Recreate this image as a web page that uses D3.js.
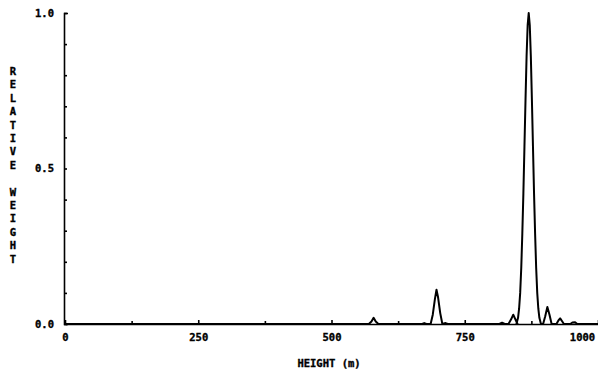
<!DOCTYPE html>
<html>
<head>
<meta charset="utf-8">
<script src="https://cdn.jsdelivr.net/npm/d3@7"></script>
<style>
  html, body { margin: 0; padding: 0; background: #fff; }
  svg { display: block; }
  text { font-family: "DejaVu Sans Mono", "Liberation Mono", monospace; font-weight: bold; fill: #000; stroke: #000; stroke-width: 0.35; }
</style>
</head>
<body>
<svg id="chart" width="598" height="369"></svg>
<script>
// Height samples (m) and the relative weight at each
const heights = [
  0, 570, 575, 579, 583, 588,
  670, 674, 678, 686, 690, 694, 697, 700, 704, 708, 714, 718,
  815, 820, 825, 832, 837, 841, 845, 849,
  847, 850, 852, 854, 856, 858, 860, 862, 864, 866, 868, 870,
  872, 874, 876, 878, 880, 882, 884, 886, 888, 890, 893,
  897, 901, 905, 909, 913,
  922, 926, 929, 933, 936,
  948, 952, 957, 961, 1000
];
const weights = [
  0, 0, 0.008, 0.02, 0.008, 0,
  0, 0.003, 0, 0, 0.03, 0.08, 0.11, 0.085, 0.035, 0, 0.003, 0,
  0, 0.004, 0, 0, 0.015, 0.03, 0.015, 0,
  0, 0.02, 0.05, 0.10, 0.18, 0.29, 0.42, 0.57, 0.72, 0.86, 0.96, 1.0,
  0.96, 0.86, 0.72, 0.57, 0.42, 0.29, 0.18, 0.10, 0.05, 0.02, 0,
  0, 0.025, 0.055, 0.03, 0,
  0, 0.012, 0.018, 0.008, 0,
  0, 0.005, 0.006, 0, 0
];

const xMajor = [0, 250, 500, 750, 1000];
const xMinor = [125, 375, 625, 875];
const yMajor = [0, 0.5, 1.0];
const yMinor = [0.1, 0.2, 0.3, 0.4, 0.6, 0.7, 0.8, 0.9];
const yTitle = "RELATIVE WEIGHT";
const xTitle = "HEIGHT (m)";

const svg = d3.select("#chart");
const x = d3.scaleLinear().domain([0, 1000]).range([65, 598]);
const y = d3.scaleLinear().domain([0, 1]).range([324, 13]);

// x axis: ticks point up into the plot
const xAxis = svg.append("g").attr("transform", `translate(0,${y(0)})`)
  .call(d3.axisBottom(x).tickValues(xMajor).tickSizeInner(-4).tickSizeOuter(0).tickPadding(10)
    .tickFormat(d => d3.format("d")(d)));
svg.append("g").attr("transform", `translate(0,${y(0)})`)
  .call(d3.axisBottom(x).tickValues(xMinor).tickSizeInner(-3).tickSizeOuter(0).tickFormat(""))
  .select(".domain").remove();
xAxis.selectAll("text").attr("font-size", 10.5);
xAxis.selectAll(".tick").filter(d => d === 1000).select("text").attr("dx", -16);

// y axis: ticks point right, with a short cap at the top
const yAxis = svg.append("g").attr("transform", `translate(${x(0) - 1},0)`)
  .call(d3.axisLeft(y).tickValues(yMajor).tickSizeInner(-3).tickSizeOuter(-4).tickPadding(10)
    .tickFormat(d3.format(".1f")));
svg.append("g").attr("transform", `translate(${x(0) - 1},0)`)
  .call(d3.axisLeft(y).tickValues(yMinor).tickSizeInner(-3).tickSizeOuter(0).tickFormat(""))
  .select(".domain").remove();
yAxis.selectAll("text").attr("font-size", 10.5);

svg.selectAll(".domain, .tick line").attr("stroke", "#000").attr("stroke-width", 1.6);

// axis titles
svg.append("text").attr("x", 329).attr("y", 367).attr("text-anchor", "middle")
  .attr("font-size", 10.5).text(xTitle);
svg.append("g").selectAll("text").data(yTitle.split(""))
  .join("text")
  .attr("x", 13).attr("y", (d, i) => 75 + i * 13.4)
  .attr("text-anchor", "middle").attr("font-size", 10.5)
  .text(d => d);

// weight curve
const pts = heights.map((h, i) => [h, weights[i]]);
svg.append("path").datum(pts)
  .attr("fill", "none").attr("stroke", "#000").attr("stroke-width", 2)
  .attr("stroke-linejoin", "round")
  .attr("d", d3.line().x(d => x(d[0])).y(d => y(d[1])));
</script>
</body>
</html>
